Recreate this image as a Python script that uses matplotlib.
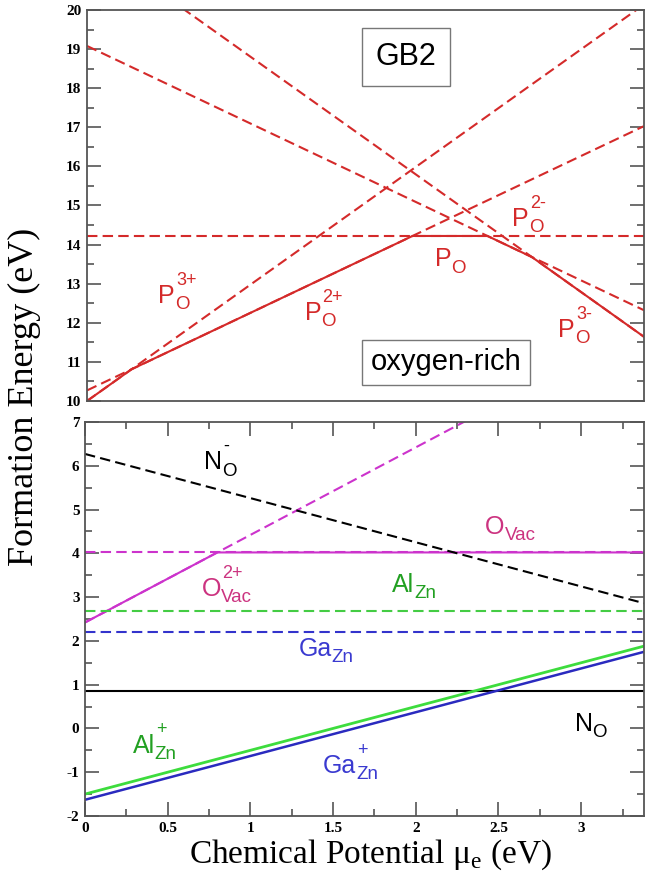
import numpy as np
import matplotlib.pyplot as plt

# chemical potential range (eV)
mu_ends = [0.0, 3.38]

# --- top panel: P_O in GB2, oxygen-rich (values at mu=0 and mu=3.38)
p_3p = [10.00, 20.14]
p_2p = [10.27, 17.03]
p_0 = [14.22, 14.22]
p_2m = [19.08, 12.32]
p_3m = [21.78, 11.64]
# lowest-energy path (kinks)
p_env_mu = [0.0, 0.27, 1.975, 2.43, 2.70, 3.38]
p_env_E = [10.00, 10.81, 14.22, 14.22, 13.68, 11.64]

# --- bottom panel
ovac_2p = [2.42, 9.18]
ovac_0 = [4.02, 4.02]
ovac_env_mu = [0.0, 0.80, 3.38]
ovac_env_E = [2.42, 4.02, 4.02]
no_m = [6.27, 2.86]
no_0 = [0.85, 0.85]
alzn_0 = [2.68, 2.68]
alzn_p = [-1.50, 1.88]
gazn_0 = [2.20, 2.20]
gazn_p = [-1.63, 1.75]

RED = '#d42a2a'
MAG = '#cc33cc'
MAG_TXT = '#cc3380'
GRN = '#3ddc3d'
GRN_TXT = '#22a022'
BLU = '#2a2abf'
BLU_TXT = '#3a3ad0'
DASH = (5, 2.5)
LW = 1.5

fig = plt.figure(figsize=(6.45, 8.83), dpi=100)
ax1 = fig.add_axes([0.1349, 0.5459, 0.8636, 0.4428])
ax2 = fig.add_axes([0.1318, 0.0759, 0.8667, 0.4462])
renderer = fig.canvas.get_renderer()

tick_font = dict(family='Liberation Serif', weight='bold', size=11)
lab_font = ['Liberation Sans', 'DejaVu Sans']


def style_axes(ax, ymin, ymax, xticks=True):
    ax.set_xlim(mu_ends)
    ax.set_ylim(ymin, ymax)
    for s in ax.spines.values():
        s.set_color('#555555')
        s.set_linewidth(1.3)
    ax.set_yticks(np.arange(ymin, ymax + 1, 1))
    ax.set_yticks(np.arange(ymin, ymax, 0.5), minor=True)
    if xticks:
        ax.set_xticks([0, 0.5, 1, 1.5, 2, 2.5, 3])
        ax.set_xticklabels(['0', '0.5', '1', '1.5', '2', '2.5', '3'])
        ax.set_xticks(np.arange(0, 3.4, 0.25), minor=True)
        ax.tick_params(axis='x', which='both', top=True)
    else:
        ax.set_xticks([])
        ax.set_xticks([], minor=True)
    ax.tick_params(which='both', direction='in', right=True, color='#555555', width=1.2)
    ax.tick_params(which='major', length=10, pad=4)
    ax.tick_params(which='minor', length=5)
    for t in ax.get_xticklabels() + ax.get_yticklabels():
        t.set_fontproperties(tick_font)
    ax.set_yticklabels([str(int(v)) for v in np.arange(ymin, ymax + 1, 1)],
                       fontdict=tick_font)


def dashed(ax, vals, color):
    ax.plot(mu_ends, vals, color=color, lw=LW, dashes=DASH)


def label(ax, x, y, main, sub, sup, color, size=18):
    # main letters, then subscript and superscript stacked after them
    t = ax.text(x, y, main, color=color, fontsize=size, family=lab_font,
                ha='left', va='baseline')
    w = t.get_window_extent(renderer).width * 72 / fig.dpi
    ax.annotate(sub, (x, y), xytext=(w, -4.5), textcoords='offset points',
                color=color, fontsize=size * 0.75, family=lab_font,
                ha='left', va='baseline')
    if sup:
        ax.annotate(sup, (x, y), xytext=(w + 1, 13), textcoords='offset points',
                    color=color, fontsize=size * 0.72, family=lab_font,
                    ha='left', va='baseline')


# top panel
for v in [p_3p, p_2p, p_0, p_2m, p_3m]:
    dashed(ax1, v, RED)
ax1.plot(p_env_mu, p_env_E, color=RED, lw=LW)
style_axes(ax1, 10, 20, xticks=False)

label(ax1, 0.432, 12.50, 'P', 'O', '3+', RED)
label(ax1, 1.32, 12.07, 'P', 'O', '2+', RED)
label(ax1, 2.11, 13.44, 'P', 'O', '', RED)
label(ax1, 2.58, 14.48, 'P', 'O', '2-', RED)
label(ax1, 2.86, 11.63, 'P', 'O', '3-', RED)

ax1.text(1.935, 18.8, 'GB2', fontsize=22, family=lab_font, ha='center', va='center',
         bbox=dict(boxstyle='square,pad=0.45', fc='white', ec='#777777', lw=1.0))
ax1.text(2.18, 10.99, 'oxygen-rich', fontsize=21, family=lab_font, ha='center', va='center',
         bbox=dict(boxstyle='square,pad=0.3', fc='white', ec='#777777', lw=1.0))

# bottom panel
dashed(ax2, ovac_2p, MAG)
dashed(ax2, ovac_0, MAG)
ax2.plot(ovac_env_mu, ovac_env_E, color=MAG, lw=LW)
dashed(ax2, no_m, 'black')
ax2.plot(mu_ends, no_0, color='black', lw=LW)
dashed(ax2, alzn_0, '#44cc44')
dashed(ax2, gazn_0, '#3333cc')
ax2.plot(mu_ends, alzn_p, color=GRN, lw=2.0)
ax2.plot(mu_ends, gazn_p, color=BLU, lw=1.8)
style_axes(ax2, -2, 7)

label(ax2, 0.72, 5.92, 'N', 'O', '-', 'black')
label(ax2, 2.42, 4.44, 'O', 'Vac', '', MAG_TXT)
label(ax2, 0.705, 3.03, 'O', 'Vac', '2+', MAG_TXT)
label(ax2, 1.855, 3.12, 'Al', 'Zn', '', GRN_TXT)
label(ax2, 1.29, 1.66, 'Ga', 'Zn', '', BLU_TXT)
label(ax2, 2.96, -0.05, 'N', 'O', '', 'black')
label(ax2, 0.287, -0.55, 'Al', 'Zn', '+', GRN_TXT)
label(ax2, 1.437, -1.01, 'Ga', 'Zn', '+', BLU_TXT)

fig.text(0.038, 0.55, 'Formation Energy (eV)', rotation=90, ha='center', va='center',
         family='Liberation Serif', fontsize=26)
fig.text(0.574, 0.032, r'Chemical Potential μ$_\mathregular{e}$ (eV)', ha='center', va='center',
         family='Liberation Serif', fontsize=24)

fig.savefig('out.png', dpi=100)
